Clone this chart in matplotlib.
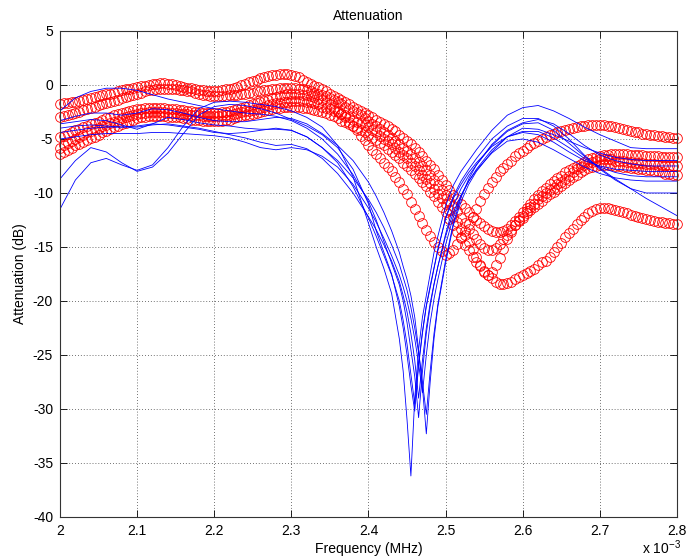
#!/usr/bin/env python3
"""
Attenuation vs frequency: measured traces (blue lines) and model traces (red circles).
"""

import numpy as np
import matplotlib

matplotlib.use("Agg")
import matplotlib.pyplot as plt

# ---- data -------------------------------------------------------------------

# red traces are sampled every 0.005 on the axis from 2.0 to 2.8 (161 samples)
freq_red = np.linspace(2.0, 2.8, 161)

red_a = [
    -4.8, -4.7, -4.5, -4.4, -4.2, -4.1, -3.9, -3.8, -3.6, -3.5,
    -3.4, -3.2, -3.1, -3.0, -2.8, -2.7, -2.6, -2.5, -2.4, -2.3,
    -2.2, -2.2, -2.1, -2.1, -2.1, -2.1, -2.1, -2.1, -2.2, -2.2,
    -2.2, -2.3, -2.3, -2.4, -2.4, -2.5, -2.5, -2.6, -2.6, -2.6,
    -2.6, -2.6, -2.5, -2.5, -2.4, -2.3, -2.2, -2.1, -2.0, -1.9,
    -1.8, -1.7, -1.6, -1.5, -1.4, -1.2, -1.1, -1.0, -0.9, -0.8,
    -0.8, -0.8, -0.8, -0.9, -0.9, -1.0, -1.1, -1.3, -1.4, -1.6,
    -1.8, -2.1, -2.4, -2.7, -3.0, -3.4, -3.8, -4.2, -4.7, -5.1,
    -5.6, -6.0, -6.4, -6.8, -7.2, -7.6, -8.0, -8.5, -9.0, -9.6,
    -10.1, -10.8, -11.5, -12.1, -12.8, -13.4, -14.0, -14.5, -15.0, -15.4,
    -15.7, -15.6, -15.3, -14.7, -14.1, -13.5, -12.9, -12.2, -11.5, -10.7,
    -10.1, -9.5, -9.0, -8.5, -8.0, -7.7, -7.3, -7.0, -6.6, -6.3,
    -6.1, -5.8, -5.6, -5.4, -5.2, -5.0, -4.8, -4.6, -4.5, -4.4,
    -4.3, -4.2, -4.1, -4.0, -3.9, -3.8, -3.8, -3.7, -3.7, -3.7,
    -3.7, -3.7, -3.8, -3.8, -3.9, -4.0, -4.1, -4.2, -4.3, -4.4,
    -4.4, -4.5, -4.5, -4.6, -4.6, -4.7, -4.7, -4.8, -4.8, -4.9,
    -4.9,
]

red_b = [
    -1.8, -1.7, -1.7, -1.6, -1.6, -1.5, -1.4, -1.3, -1.2, -1.1,
    -1.0, -0.9, -0.8, -0.8, -0.7, -0.6, -0.5, -0.4, -0.4, -0.3,
    -0.2, -0.1, -0.1, 0.0, 0.1, 0.1, 0.2, 0.2, 0.1, 0.1,
    0.0, -0.1, -0.2, -0.3, -0.3, -0.4, -0.5, -0.5, -0.6, -0.6,
    -0.6, -0.6, -0.5, -0.4, -0.4, -0.3, -0.2, 0.0, 0.1, 0.3,
    0.4, 0.5, 0.6, 0.7, 0.8, 0.9, 0.9, 1.0, 1.0, 1.0,
    0.9, 0.8, 0.7, 0.5, 0.3, 0.1, -0.1, -0.2, -0.4, -0.6,
    -0.8, -1.0, -1.2, -1.4, -1.6, -1.8, -2.0, -2.2, -2.4, -2.6,
    -2.8, -3.0, -3.2, -3.4, -3.6, -3.8, -4.1, -4.3, -4.6, -4.9,
    -5.2, -5.5, -5.8, -6.2, -6.6, -7.0, -7.4, -7.8, -8.3, -8.8,
    -9.3, -9.7, -10.2, -10.6, -11.0, -11.4, -11.8, -12.2, -12.5, -12.8,
    -13.1, -13.3, -13.5, -13.6, -13.6, -13.5, -13.3, -13.0, -12.6, -12.2,
    -11.8, -11.4, -11.0, -10.6, -10.2, -9.8, -9.5, -9.2, -8.9, -8.6,
    -8.4, -8.1, -7.9, -7.7, -7.5, -7.3, -7.1, -6.9, -6.8, -6.7,
    -6.6, -6.5, -6.5, -6.4, -6.4, -6.4, -6.4, -6.4, -6.5, -6.5,
    -6.5, -6.5, -6.6, -6.6, -6.6, -6.6, -6.7, -6.7, -6.7, -6.7,
    -6.7,
]

red_c = [
    -3.0, -2.9, -2.8, -2.7, -2.6, -2.5, -2.3, -2.2, -2.1, -2.0,
    -1.9, -1.8, -1.7, -1.6, -1.5, -1.4, -1.2, -1.1, -1.0, -0.9,
    -0.8, -0.7, -0.6, -0.5, -0.5, -0.4, -0.4, -0.4, -0.4, -0.4,
    -0.4, -0.5, -0.5, -0.6, -0.6, -0.7, -0.8, -0.9, -0.9, -1.0,
    -1.0, -1.0, -1.0, -1.0, -0.9, -0.9, -0.9, -0.8, -0.8, -0.7,
    -0.7, -0.6, -0.6, -0.5, -0.5, -0.4, -0.4, -0.3, -0.3, -0.3,
    -0.3, -0.3, -0.4, -0.4, -0.5, -0.6, -0.7, -0.8, -0.9, -1.0,
    -1.2, -1.4, -1.6, -1.8, -2.0, -2.2, -2.4, -2.6, -2.8, -3.1,
    -3.3, -3.6, -3.8, -4.1, -4.4, -4.6, -4.9, -5.2, -5.5, -5.8,
    -6.1, -6.4, -6.8, -7.1, -7.5, -7.9, -8.3, -8.8, -9.3, -9.7,
    -10.2, -10.7, -11.2, -11.7, -12.3, -12.8, -13.3, -13.8, -14.3, -14.7,
    -15.1, -15.3, -15.3, -15.1, -14.7, -14.3, -13.9, -13.4, -13.0, -12.5,
    -12.1, -11.7, -11.3, -11.0, -10.6, -10.3, -10.0, -9.7, -9.5, -9.2,
    -9.0, -8.7, -8.4, -8.1, -7.8, -7.6, -7.4, -7.2, -7.1, -7.0,
    -6.9, -6.9, -6.9, -6.9, -7.0, -7.0, -7.0, -7.1, -7.1, -7.2,
    -7.2, -7.2, -7.3, -7.3, -7.3, -7.4, -7.4, -7.4, -7.5, -7.5,
    -7.5,
]

red_d = [
    -5.8, -5.6, -5.4, -5.2, -5.0, -4.8, -4.6, -4.4, -4.3, -4.1,
    -4.0, -3.8, -3.7, -3.5, -3.4, -3.3, -3.1, -3.0, -2.9, -2.8,
    -2.7, -2.6, -2.6, -2.5, -2.5, -2.5, -2.5, -2.5, -2.6, -2.6,
    -2.6, -2.7, -2.7, -2.7, -2.8, -2.8, -2.8, -2.9, -2.9, -2.9,
    -2.9, -2.9, -2.8, -2.8, -2.8, -2.7, -2.6, -2.5, -2.4, -2.4,
    -2.3, -2.2, -2.1, -2.0, -1.9, -1.8, -1.7, -1.7, -1.6, -1.6,
    -1.5, -1.5, -1.5, -1.5, -1.6, -1.6, -1.7, -1.8, -2.0, -2.1,
    -2.2, -2.4, -2.5, -2.7, -2.8, -3.0, -3.2, -3.4, -3.5, -3.7,
    -3.9, -4.2, -4.4, -4.7, -5.0, -5.2, -5.5, -5.8, -6.2, -6.5,
    -6.8, -7.2, -7.5, -7.9, -8.3, -8.7, -9.1, -9.6, -10.1, -10.5,
    -11.0, -11.6, -12.2, -12.7, -13.3, -13.9, -14.5, -15.2, -15.9, -16.7,
    -17.3, -17.6, -17.3, -16.7, -16.0, -15.2, -14.3, -13.6, -13.0, -12.6,
    -12.3, -11.9, -11.6, -11.3, -11.0, -10.7, -10.4, -10.1, -9.9, -9.6,
    -9.4, -9.1, -8.8, -8.5, -8.3, -8.1, -7.9, -7.7, -7.6, -7.5,
    -7.4, -7.4, -7.4, -7.4, -7.5, -7.5, -7.6, -7.6, -7.7, -7.7,
    -7.8, -7.8, -7.9, -7.9, -8.0, -8.0, -8.1, -8.2, -8.2, -8.3,
    -8.3,
]

red_e = [
    -6.4, -6.2, -6.0, -5.8, -5.6, -5.5, -5.3, -5.1, -4.9, -4.8,
    -4.6, -4.4, -4.3, -4.1, -3.9, -3.8, -3.6, -3.5, -3.3, -3.2,
    -3.1, -3.0, -3.0, -2.9, -2.9, -2.9, -2.9, -2.9, -3.0, -3.0,
    -3.0, -3.0, -3.1, -3.1, -3.2, -3.2, -3.2, -3.3, -3.3, -3.3,
    -3.3, -3.3, -3.3, -3.2, -3.2, -3.1, -3.0, -2.9, -2.8, -2.8,
    -2.7, -2.6, -2.5, -2.4, -2.3, -2.2, -2.1, -2.1, -2.0, -2.0,
    -2.0, -2.0, -2.0, -2.1, -2.1, -2.2, -2.3, -2.4, -2.5, -2.6,
    -2.8, -2.9, -3.1, -3.3, -3.4, -3.6, -3.8, -4.0, -4.2, -4.4,
    -4.6, -4.9, -5.1, -5.4, -5.6, -5.9, -6.2, -6.5, -6.8, -7.2,
    -7.5, -7.9, -8.2, -8.6, -9.0, -9.4, -9.9, -10.3, -10.8, -11.3,
    -11.8, -12.4, -13.0, -13.6, -14.2, -14.8, -15.3, -15.9, -16.4, -16.8,
    -17.2, -17.6, -17.9, -18.2, -18.4, -18.4, -18.3, -18.2, -18.0, -17.8,
    -17.6, -17.4, -17.2, -17.0, -16.7, -16.4, -16.3, -15.9, -15.5, -15.0,
    -14.6, -14.1, -13.7, -13.3, -12.9, -12.5, -12.2, -11.9, -11.7, -11.5,
    -11.4, -11.4, -11.4, -11.5, -11.6, -11.7, -11.8, -11.9, -12.0, -12.1,
    -12.2, -12.3, -12.4, -12.5, -12.6, -12.7, -12.7, -12.8, -12.8, -12.9,
    -12.9,
]

# blue traces: finer sampling around the notch
freq_blue = [
    2.00, 2.02, 2.04, 2.06, 2.08, 2.10, 2.12, 2.14, 2.16, 2.18,
    2.20, 2.22, 2.24, 2.26, 2.28, 2.30, 2.32, 2.34, 2.36, 2.38,
    2.40, 2.41, 2.42, 2.43, 2.44, 2.445, 2.45, 2.455, 2.46, 2.465,
    2.47, 2.475, 2.48, 2.485, 2.49, 2.50, 2.51, 2.52, 2.53, 2.54,
    2.56, 2.58, 2.60, 2.62, 2.64, 2.66, 2.68, 2.70, 2.72, 2.74,
    2.76, 2.78, 2.80,
]

blue_1 = [
    -11.5, -8.8, -7.2, -6.8, -7.4, -7.9, -7.4, -5.8, -3.8, -2.2,
    -1.6, -1.5, -1.6, -1.8, -2.0, -2.4, -3.0, -3.9, -5.6, -8.5,
    -12.8, -15.0, -17.0, -19.3, -23.5, -26.5, -31.0, -36.2, -29.0, -24.5,
    -21.5, -19.5, -17.5, -15.5, -14.0, -11.2, -9.3, -8.0, -7.0, -6.0,
    -4.2, -2.8, -2.1, -1.9, -2.4, -3.1, -3.9, -4.6, -5.2, -5.8,
    -5.9, -5.9, -5.9,
]
blue_2 = [
    -8.7, -7.0, -5.8, -6.2, -7.2, -8.0, -7.6, -6.3, -4.5, -2.8,
    -2.0, -1.8, -1.9, -2.2, -2.6, -3.2, -3.8, -4.6, -5.8, -7.8,
    -11.0, -13.5, -15.5, -17.5, -20.5, -22.5, -25.0, -27.8, -30.2, -26.0,
    -23.0, -20.5, -18.8, -17.0, -15.3, -12.3, -10.3, -8.9, -7.8, -6.8,
    -5.0, -3.8, -3.1, -3.1, -3.8, -5.0, -6.5, -7.8, -8.8, -9.6,
    -10.0, -10.0, -10.0,
]
blue_3 = [
    -2.4, -1.2, -0.6, -0.3, -0.3, -0.5, -0.9, -1.3, -1.6, -1.9,
    -2.2, -2.4, -2.6, -2.7, -2.9, -3.3, -4.0, -5.0, -6.4, -8.3,
    -10.8, -12.5, -14.5, -16.5, -18.5, -20.0, -22.0, -24.5, -27.0, -30.8,
    -26.5, -23.0, -20.5, -18.5, -16.8, -13.8, -11.2, -9.6, -8.4, -7.4,
    -5.6, -4.3, -3.6, -3.5, -4.2, -5.4, -6.6, -7.7, -8.7, -9.6,
    -10.5, -11.3, -12.1,
]
blue_4 = [
    -3.3, -2.9, -2.6, -2.6, -2.8, -2.6, -2.2, -2.3, -2.6, -3.0,
    -3.3, -3.4, -3.4, -3.2, -3.0, -3.1, -3.6, -4.5, -5.6, -7.0,
    -9.0, -10.3, -11.8, -13.5, -15.5, -16.8, -18.0, -19.5, -21.5, -24.5,
    -28.0, -32.3, -27.5, -23.5, -20.5, -16.5, -13.0, -10.8, -9.2, -8.0,
    -6.2, -4.8, -4.0, -4.1, -4.6, -5.2, -5.8, -6.3, -6.7, -6.9,
    -7.0, -7.0, -7.0,
]
blue_5 = [
    -3.6, -3.4, -3.2, -3.3, -3.7, -4.1, -3.6, -3.0, -3.2, -3.5,
    -3.7, -3.8, -4.0, -4.1, -4.1, -4.2, -4.8, -5.8, -7.2, -9.4,
    -12.3, -14.0, -15.8, -17.6, -20.0, -21.8, -24.0, -26.8, -29.5, -25.8,
    -22.8, -20.4, -18.6, -16.9, -15.2, -12.4, -10.5, -9.2, -8.1, -7.2,
    -5.7, -4.8, -4.4, -4.6, -5.3, -6.2, -7.0, -7.5, -7.8, -7.9,
    -8.0, -8.0, -8.0,
]
blue_6 = [
    -4.0, -3.8, -3.7, -3.8, -3.9, -3.9, -3.7, -3.6, -3.8, -4.0,
    -4.3, -4.6, -4.9, -5.3, -5.6, -5.5, -5.9, -6.8, -8.2, -10.0,
    -12.2, -13.4, -14.8, -16.3, -18.2, -19.5, -21.0, -23.0, -25.5, -29.0,
    -25.5, -22.5, -20.2, -18.4, -16.8, -14.0, -11.8, -10.2, -8.9, -7.9,
    -6.3, -5.2, -5.0, -5.3, -6.0, -6.8, -7.6, -8.2, -8.6, -8.8,
    -8.9, -8.9, -8.9,
]
blue_7 = [
    -4.4, -4.2, -4.0, -3.9, -3.9, -3.8, -3.6, -3.7, -3.9, -4.1,
    -4.4, -4.5, -4.4, -4.2, -4.0, -4.2, -4.8, -5.8, -7.0, -8.6,
    -10.6, -11.8, -13.2, -14.8, -16.6, -17.8, -19.0, -20.6, -22.5, -24.8,
    -27.5, -30.5, -26.5, -23.0, -20.3, -16.2, -12.8, -10.4, -8.7, -7.4,
    -5.5, -4.2, -3.5, -3.2, -3.6, -4.5, -5.6, -6.5, -7.0, -7.3,
    -7.5, -7.5, -7.5,
]
blue_8 = [
    -5.0, -4.8, -4.6, -4.5, -4.5, -4.5, -4.4, -4.4, -4.5, -4.6,
    -4.7, -4.9, -5.3, -5.8, -6.0, -5.8, -6.0, -6.6, -7.6, -9.2,
    -11.4, -12.7, -14.2, -15.8, -17.6, -18.7, -20.0, -21.6, -23.5, -25.8,
    -28.5, -25.0, -22.0, -19.8, -18.0, -14.8, -12.2, -10.3, -8.9, -7.8,
    -6.0, -4.8, -4.3, -4.3, -4.9, -5.8, -6.8, -7.6, -8.1, -8.4,
    -8.5, -8.5, -8.5,
]

x_ticks = [2.0, 2.1, 2.2, 2.3, 2.4, 2.5, 2.6, 2.7, 2.8]
x_tick_labels = ["2", "2.1", "2.2", "2.3", "2.4", "2.5", "2.6", "2.7", "2.8"]
y_ticks = [-40, -35, -30, -25, -20, -15, -10, -5, 0, 5]


def main() -> int:
    plt.rcParams["font.family"] = ["Liberation Sans", "DejaVu Sans"]
    plt.rcParams["axes.unicode_minus"] = False
    plt.rcParams["mathtext.fontset"] = "custom"
    plt.rcParams["mathtext.rm"] = "Liberation Sans"

    fig = plt.figure(figsize=(6.87, 5.60), dpi=100)
    ax = fig.add_axes([0.0873, 0.0768, 0.8981, 0.8679])

    # markers at the axis edges are not clipped (MATLAB style)
    for ys in (red_a, red_b, red_c, red_d, red_e):
        ax.plot(freq_red, ys, linestyle="none", marker="o", markersize=7,
                markerfacecolor="none", markeredgecolor="#ff0000",
                markeredgewidth=0.6, clip_on=False)

    for ys in (blue_1, blue_2, blue_3, blue_4, blue_5, blue_6, blue_7, blue_8):
        ax.plot(freq_blue, ys, color="#0000ff", linewidth=0.6)

    ax.set_xlim(2.0, 2.8)
    ax.set_ylim(-40, 5)
    ax.set_xticks(x_ticks)
    ax.set_xticklabels(x_tick_labels)
    ax.set_yticks(y_ticks)

    ax.grid(True, color="#444444", linestyle=(0, (1, 2.5)), linewidth=0.6)
    ax.set_axisbelow(True)
    ax.tick_params(direction="in", top=True, right=True, length=5, width=0.6,
                   labelsize=10, pad=5)
    for sp in ax.spines.values():
        sp.set_color("#333333")
        sp.set_linewidth(0.8)

    ax.set_title("Attenuation", fontsize=10, pad=8)
    ax.set_xlabel("Frequency (MHz)", fontsize=10, labelpad=3)
    ax.set_ylabel("Attenuation (dB)", fontsize=10, labelpad=4)
    fig.text(0.934, 0.006, r"x 10$^{\mathrm{-3}}$", fontsize=10, va="bottom", ha="left")

    fig.savefig("out.png", dpi=100)
    plt.close(fig)
    return 0


if __name__ == "__main__":
    raise SystemExit(main())
